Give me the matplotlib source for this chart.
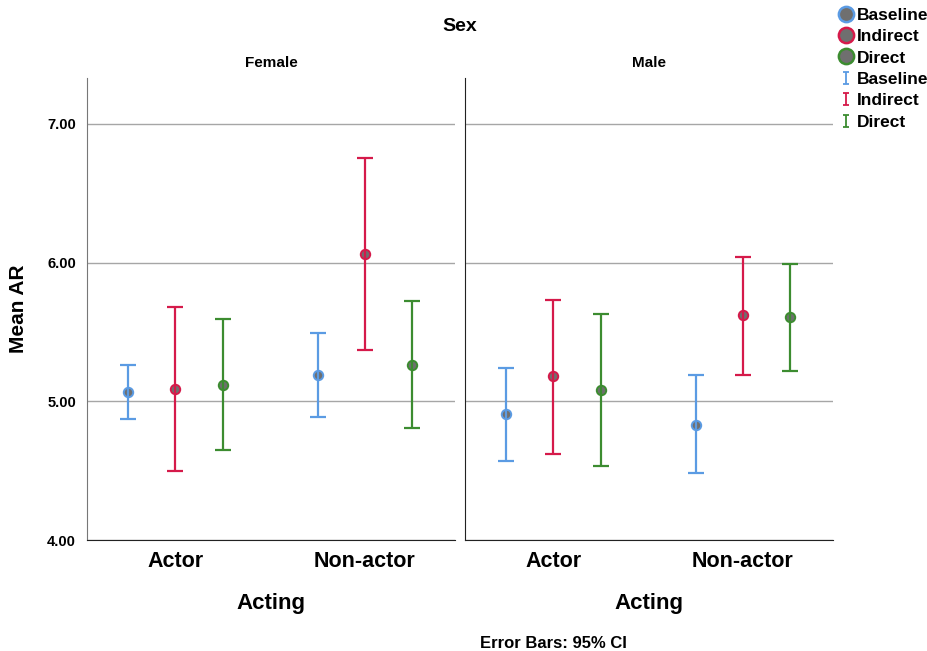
import matplotlib.pyplot as plt
import numpy as np
from matplotlib.lines import Line2D
from matplotlib.path import Path

plt.rcParams['font.family'] = ['Liberation Sans', 'DejaVu Sans']

groups = ['Actor', 'Non-actor']
conditions = ['Baseline', 'Indirect', 'Direct']
colors = {'Baseline': '#5B9BE3', 'Indirect': '#D51A4A', 'Direct': '#3C8C30'}

# means / lower CI / upper CI, indexed [condition][group]
female_mean = {'Baseline': [5.07, 5.19], 'Indirect': [5.09, 6.06], 'Direct': [5.12, 5.26]}
female_low = {'Baseline': [4.87, 4.89], 'Indirect': [4.50, 5.37], 'Direct': [4.65, 4.81]}
female_high = {'Baseline': [5.26, 5.49], 'Indirect': [5.68, 6.75], 'Direct': [5.59, 5.72]}

male_mean = {'Baseline': [4.91, 4.83], 'Indirect': [5.18, 5.62], 'Direct': [5.08, 5.61]}
male_low = {'Baseline': [4.57, 4.48], 'Indirect': [4.62, 5.19], 'Direct': [4.53, 5.22]}
male_high = {'Baseline': [5.24, 5.19], 'Indirect': [5.73, 6.04], 'Direct': [5.63, 5.99]}

panels = [('Female', female_mean, female_low, female_high),
          ('Male', male_mean, male_low, male_high)]

fig = plt.figure(figsize=(9.28, 6.51), dpi=100)
ax1 = fig.add_axes([0.09375, 0.1705, 0.3966, 0.7097])
ax2 = fig.add_axes([0.5011, 0.1705, 0.3966, 0.7097], sharey=ax1)

offsets = [-0.25, 0, 0.25]
x = np.arange(len(groups))

for ax, (title, means, lows, highs) in zip([ax1, ax2], panels):
    for off, cond in zip(offsets, conditions):
        m = np.array(means[cond])
        lo = m - np.array(lows[cond])
        hi = np.array(highs[cond]) - m
        ax.plot(x + off, m, 'o', markersize=6.8, markerfacecolor='#6f6f6f',
                markeredgecolor=colors[cond], markeredgewidth=1.4, zorder=3)
        ax.errorbar(x + off, m, yerr=[lo, hi], fmt='none', ecolor=colors[cond],
                    elinewidth=1.6, capsize=6, capthick=1.6, zorder=4)
    ax.set_xlim(-0.465, 1.475)
    ax.set_ylim(4.0, 7.33)
    ax.set_yticks([4, 5, 6, 7])
    ax.yaxis.grid(True, color='#a6a6a6', linewidth=1)
    ax.set_axisbelow(True)
    ax.set_xticks(x)
    ax.set_xticklabels(groups, fontsize=15.5, fontweight='bold')
    ax.tick_params(axis='x', length=0, pad=8)
    ax.set_title(title, fontsize=11, fontweight='bold', pad=8)
    ax.set_xlabel('Acting', fontsize=16, fontweight='bold', labelpad=15)
    for s in ['top', 'right']:
        ax.spines[s].set_visible(False)
    ax.spines['bottom'].set_color('#222222')

ax1.set_yticklabels(['%.2f' % v for v in [4, 5, 6, 7]], fontsize=10.5, fontweight='bold')
ax1.tick_params(axis='y', length=0, pad=8)
ax1.spines['left'].set_color('#777777')
ax1.set_ylabel('Mean AR', fontsize=15, fontweight='bold', labelpad=14)
ax2.tick_params(axis='y', length=0, labelleft=False)
ax2.spines['left'].set_color('#222222')

fig.text(0.4957, 0.96, 'Sex', ha='center', va='center', fontsize=14, fontweight='bold')
fig.text(0.596, 0.0, 'Error Bars: 95% CI', ha='center', va='bottom', fontsize=12, fontweight='bold')

# small error-bar glyph for the legend
ibar = Path([(-0.45, -1), (0.45, -1), (0, -1), (0, 1), (-0.45, 1), (0.45, 1)],
            [Path.MOVETO, Path.LINETO, Path.MOVETO, Path.LINETO, Path.MOVETO, Path.LINETO])

handles = []
for cond in conditions:
    handles.append(Line2D([], [], marker='o', linestyle='none', markersize=11,
                          markerfacecolor='#6f6f6f', markeredgecolor=colors[cond],
                          markeredgewidth=1.8))
for cond in conditions:
    handles.append(Line2D([], [], marker=ibar, linestyle='none', markersize=9,
                          markerfacecolor='none', markeredgecolor=colors[cond],
                          markeredgewidth=1.3))
fig.legend(handles, conditions + conditions, loc='upper left',
           bbox_to_anchor=(0.892, 1.007), frameon=False, handlelength=0.7,
           handletextpad=0.3, labelspacing=0.36, borderpad=0.2,
           prop={'weight': 'bold', 'size': 12.5})

fig.savefig('out.png', dpi=100)
